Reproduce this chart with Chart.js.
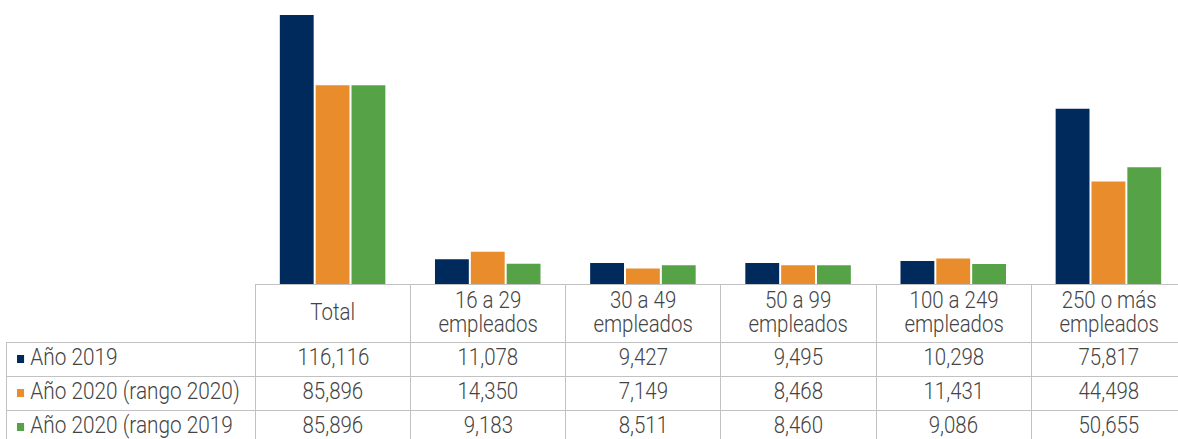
<!DOCTYPE html>
<html>
<head>
<meta charset="utf-8">
<script src="https://cdn.jsdelivr.net/npm/chart.js@4.4.1/dist/chart.umd.min.js"></script>
<style>
  html, body { margin: 0; padding: 0; background: #fff; overflow: hidden; width: 1178px; height: 439px; }
  #wrap { position: relative; width: 1186px; height: 439px; }
  #chartBox { position: absolute; left: 0; top: 0; width: 1186px; height: 284px; }
  table { position: absolute; left: 6px; top: 284px; border-collapse: collapse; table-layout: fixed;
          font-family: Roboto, "Liberation Sans", sans-serif; font-weight: 300; font-size: 23.5px; color: #444; }
  td { border: 1px solid #c2c2c2; padding: 0 0 5px 0; text-align: center; vertical-align: middle; white-space: nowrap; overflow: hidden; box-sizing: border-box; }
  td.blank { border-top: none; border-left: none; }
  td.lab { text-align: left; padding-left: 10px; }
  .sx { display: inline-block; transform: scaleX(0.87); transform-origin: center center; }
  td.lab .sx { transform: scaleX(0.885); transform-origin: left center; }
  td.hdr { line-height: 24px; padding-bottom: 4px; }
  .sw { display: inline-block; width: 8px; height: 8px; margin-right: 7px; vertical-align: 2px; }
</style>
</head>
<body>
<div id="wrap">
  <div id="chartBox"><canvas id="c"></canvas></div>
  <table id="tbl"></table>
</div>
<script>
// ---- data ----
const categories = [["Total"], ["16 a 29", "empleados"], ["30 a 49", "empleados"], ["50 a 99", "empleados"], ["100 a 249", "empleados"], ["250 o más", "empleados"]];
const seriesNames = ["Año 2019", "Año 2020 (rango 2020)", "Año 2020 (rango 2019"];
const year2019 = [116116, 11078, 9427, 9495, 10298, 75817];
const year2020r2020 = [85896, 14350, 7149, 8468, 11431, 44498];
const year2020r2019 = [85896, 9183, 8511, 8460, 9086, 50655];
const seriesColors = ["#012A5C", "#E98C2C", "#56A347"];
const yMax = 120000;

const seriesValues = [year2019, year2020r2020, year2020r2019];

const chart = new Chart(document.getElementById('c'), {
  type: 'bar',
  data: {
    labels: categories.map(c => c.join(' ')),
    datasets: seriesValues.map((vals, i) => ({
      label: seriesNames[i],
      data: vals,
      backgroundColor: seriesColors[i],
      borderColor: 'rgba(255,255,255,0.85)',
      borderWidth: 1,
      categoryPercentage: 0.693,
      barPercentage: 1.0
    }))
  },
  options: {
    responsive: true,
    maintainAspectRatio: false,
    animation: false,
    layout: { padding: { top: 5, left: 255, right: 0, bottom: 0 } },
    plugins: { legend: { display: false }, tooltip: { enabled: false } },
    scales: {
      x: { display: false, grid: { display: false } },
      y: { display: false, min: 0, max: yMax, grid: { display: false } }
    }
  }
});

// ---- data table below, aligned to the chart's x scale ----
function buildTable() {
  const xs = chart.scales.x;
  const colW = (xs.right - xs.left) / categories.length;
  const firstW = xs.left - 6;
  const tbl = document.getElementById('tbl');
  let html = '<colgroup><col style="width:' + firstW + 'px">';
  categories.forEach(() => { html += '<col style="width:' + colW + 'px">'; });
  html += '</colgroup>';
  html += '<tr style="height:58px"><td class="blank"></td>';
  categories.forEach(c => {
    html += '<td class="hdr"><span class="sx">' + c.join('<br>') + '</span></td>';
  });
  html += '</tr>';
  seriesValues.forEach((vals, i) => {
    html += '<tr style="height:34px"><td class="lab"><span class="sx"><span class="sw" style="background:' + seriesColors[i] + '"></span>' + seriesNames[i] + '</span></td>';
    vals.forEach(v => {
      html += '<td><span class="sx">' + v.toLocaleString('en-US') + '</span></td>';
    });
    html += '</tr>';
  });
  tbl.innerHTML = html;
  tbl.style.width = (firstW + colW * categories.length) + 'px';
}
buildTable();
</script>
</body>
</html>
